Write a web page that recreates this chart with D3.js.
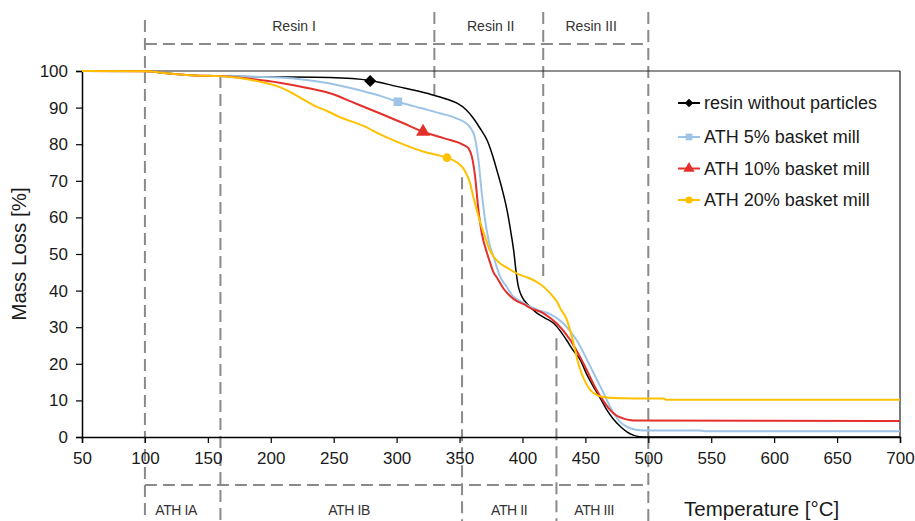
<!DOCTYPE html>
<html><head><meta charset="utf-8">
<script src="https://cdn.jsdelivr.net/npm/d3@7/dist/d3.min.js"></script>
<style>
body{margin:0;background:#fff;}
svg{display:block;font-family:"Liberation Sans",Arial,Helvetica,sans-serif;}
</style></head>
<body><svg id="c" width="915" height="521"></svg>
<script>
// ---- data ----
const seriesNames = ["resin without particles","ATH 5% basket mill","ATH 10% basket mill","ATH 20% basket mill"];
const xTicks = [50,100,150,200,250,300,350,400,450,500,550,600,650,700];
const yTicks = [0,10,20,30,40,50,60,70,80,90,100];

const resinBlack = [[50,100],[100,99.9],[120,99.3],[140,98.8],[160,98.6],[200,98.4],[247,98.2],[279,97.4],[300,95.8],[324,93.9],[340,92.3],[348,91.2],[355,89.5],[361,87.1],[366,84.5],[372,81],[376,77.2],[380,72.5],[384,67.5],[388,61.5],[391,55.5],[393,51],[395,45],[396.5,41.5],[398,39.6],[401,37.5],[404,36.3],[411,34],[418,32.5],[425,31],[430,29],[435,26.5],[440,23.8],[446,21],[451,17.2],[456,14],[462,10.5],[467,7.4],[472,5],[478,2.8],[483,1.4],[488,0.5],[493,0.1],[500,0],[700,0]];
const ath5 = [[50,100],[100,99.9],[120,99.3],[140,98.8],[160,98.6],[207,98.2],[230,97.5],[247,96.6],[270,94.8],[287,93.2],[301,91.6],[320,89.8],[335,88.4],[348,87],[353,86.2],[358,84.8],[362,82],[365,75.7],[367.7,66.6],[370.3,59.3],[374.3,52],[377,49.3],[380,46],[382,44],[387.5,41],[393,38.3],[398,37.2],[406,35.6],[414,34.5],[422,33.6],[432.6,31],[443,26.5],[454,19.2],[464.5,12],[472.4,6.5],[478,4],[483,2.8],[490,2],[497,1.8],[540,1.8],[545,1.6],[700,1.6]];
const ath10 = [[50,100],[100,99.9],[120,99.3],[140,98.8],[160,98.6],[168,98.4],[185,97.8],[207,96.8],[230,95.3],[247,93.9],[267,91.2],[287,88.4],[305,85.8],[321,83.4],[338,81.6],[353,79.8],[357,78.9],[359.8,76.6],[362.4,71.1],[365,62],[367.7,55.6],[371.7,50.4],[374.3,47.6],[377,45],[380,43.4],[385,40.5],[390,38.6],[395.5,37.1],[401,36.3],[406,35.3],[416.7,33.8],[427.3,31],[438,26.5],[448.5,20.1],[459,12.8],[464,10],[469.6,7.4],[475,5.8],[480,5.1],[486,4.6],[491,4.5],[700,4.4]];
const ath20 = [[50,100],[100,99.9],[120,99.3],[140,98.8],[160,98.6],[175,98.1],[191,97.1],[202,96.2],[212.6,94.8],[223,92.8],[233.8,90.7],[245,89],[255,87.4],[273.6,85],[287,82.7],[300,80.7],[321,78],[340,76.3],[348,75],[353,73.4],[356,71.5],[358.4,69.3],[361,65.5],[363.7,62],[367,58],[370.3,54.7],[373.5,51.5],[377,49.3],[382,47.5],[387.5,46.3],[398,44.3],[406,43.3],[414,41.8],[419.5,40.2],[424,38.5],[427.3,37],[430,35.2],[435.3,32],[438,29],[440.6,25.6],[443,22],[446,18.3],[450,15],[454,12.8],[460,11.3],[467,10.8],[480,10.6],[500,10.5],[512,10.5],[514,10.2],[700,10.2]];
const seriesData = [resinBlack, ath5, ath10, ath20];
const markerPoints = [[279,97.3],[301,91.6],[321,83.4],[340,76.3]];

const resinBounds = [100,330,416.5,500];
const resinLineEndMass = [100,93.4,43.4,0];
const resinLabels = ["Resin I","Resin II","Resin III"];
const resinLabelT = [218.5,374.8,454.6];
const athBounds = [100,160,352,427,500];
const athLineStartMass = [100,98.6,71,27,0];
const athLabels = ["ATH IA","ATH IB","ATH II","ATH III"];
const athLabelT = [124.8,262.2,389.4,457];

// ---- styles ----
const colors = ["#000000","#9dc3e6","#e3302b","#ffc000"];
const widths = [1.5,2,2,2];
const symbols = [d3.symbolSquare, d3.symbolSquare, d3.symbolTriangle, d3.symbolCircle];
const rotations = [45,0,0,0];

const svg = d3.select("#c");
const x = d3.scaleLinear().domain([50,700]).range([82,900]);
const y = d3.scaleLinear().domain([0,100]).range([437,71]);
const dashColor = "#8a8a8a";
const dash = "12,6";

// dashed annotation lines
const g = svg.append("g");
resinBounds.forEach((t,i)=>{
  const top = i===0 ? 20 : 12;
  const bot = (i===0) ? y(100) : y(resinLineEndMass[i]);
  g.append("line").attr("x1",x(t)).attr("x2",x(t)).attr("y1",top).attr("y2",bot)
   .attr("stroke",dashColor).attr("stroke-width",2).attr("stroke-dasharray",dash);
});
g.append("line").attr("x1",x(resinBounds[0])).attr("x2",x(resinBounds[3])).attr("y1",44).attr("y2",44)
  .attr("stroke",dashColor).attr("stroke-width",2).attr("stroke-dasharray",dash);
athBounds.forEach((t,i)=>{
  if(i===athBounds.length-1) return;
  g.append("line").attr("x1",x(t)).attr("x2",x(t)).attr("y1",y(athLineStartMass[i])).attr("y2",521)
   .attr("stroke",dashColor).attr("stroke-width",2).attr("stroke-dasharray",dash);
});
g.append("line").attr("x1",x(500)).attr("x2",x(500)).attr("y1",y(0)).attr("y2",521)
  .attr("stroke",dashColor).attr("stroke-width",2).attr("stroke-dasharray",dash);
g.append("line").attr("x1",x(athBounds[0])).attr("x2",x(athBounds[4])).attr("y1",485).attr("y2",485)
  .attr("stroke",dashColor).attr("stroke-width",2).attr("stroke-dasharray",dash);

resinLabels.forEach((l,i)=>{
  svg.append("text").attr("x",x(resinLabelT[i])).attr("y",31).attr("text-anchor","middle")
    .attr("font-size",14).attr("fill","#333").text(l);
});
athLabels.forEach((l,i)=>{
  svg.append("text").attr("x",x(athLabelT[i])).attr("y",515).attr("text-anchor","middle")
    .attr("font-size",14).attr("fill","#333").attr("letter-spacing",-0.4).text(l);
});

// frame top/right
svg.append("line").attr("x1",82).attr("x2",900).attr("y1",71).attr("y2",71).attr("stroke","#222").attr("stroke-width",1.2);
svg.append("line").attr("x1",900).attr("x2",900).attr("y1",71).attr("y2",437).attr("stroke","#222").attr("stroke-width",1.2);

// axes
const xAxis = svg.append("g").attr("transform","translate(0,437)")
  .call(d3.axisBottom(x).tickValues(xTicks).tickSize(6).tickPadding(9).tickFormat(d3.format("d")));
const yAxis = svg.append("g").attr("transform","translate(82,0)")
  .call(d3.axisLeft(y).tickValues(yTicks).tickSize(6).tickPadding(8).tickFormat(d3.format("d")));
[xAxis,yAxis].forEach(a=>{
  a.select(".domain").attr("stroke","#000").attr("stroke-width",1.5);
  a.selectAll(".tick line").attr("stroke","#000").attr("stroke-width",1.2);
  a.selectAll(".tick text").attr("font-size",17).attr("fill","#1a1a1a").attr("font-family","'Liberation Sans',Arial,sans-serif");
});

// curves
const line = d3.line().x(d=>x(d[0])).y(d=>y(d[1])).curve(d3.curveMonotoneX);
seriesData.forEach((s,i)=>{
  svg.append("path").datum(s).attr("d",line).attr("fill","none")
    .attr("stroke",colors[i]).attr("stroke-width",widths[i]).attr("stroke-linejoin","round");
});
const markerSizes = [72,72,85,60];
markerPoints.forEach((p,i)=>{
  svg.append("path").attr("d",d3.symbol().type(symbols[i]).size(markerSizes[i])())
    .attr("transform",`translate(${x(p[0])},${y(p[1])}) rotate(${rotations[i]})`).attr("fill",colors[i]);
});

// legend
const legY = [103,137,168.5,200];
const legendSizes = [38,45,55,40];
seriesNames.forEach((n,i)=>{
  svg.append("line").attr("x1",678).attr("x2",700).attr("y1",legY[i]).attr("y2",legY[i])
    .attr("stroke",colors[i]).attr("stroke-width",2);
  svg.append("path").attr("d",d3.symbol().type(symbols[i]).size(legendSizes[i])())
    .attr("transform",`translate(689,${legY[i]}) rotate(${rotations[i]})`).attr("fill",colors[i]);
  svg.append("text").attr("x",704).attr("y",legY[i]).attr("dy","0.35em")
    .attr("font-size",18).attr("fill","#1a1a1a").text(n);
});

// axis titles
svg.append("text").attr("transform","translate(26,254) rotate(-90)").attr("text-anchor","middle")
  .attr("font-size",20.5).attr("fill","#1a1a1a").text("Mass Loss [%]");
svg.append("text").attr("x",684).attr("y",516).attr("font-size",20.5).attr("fill","#1a1a1a").text("Temperature [°C]");
</script></body></html>
